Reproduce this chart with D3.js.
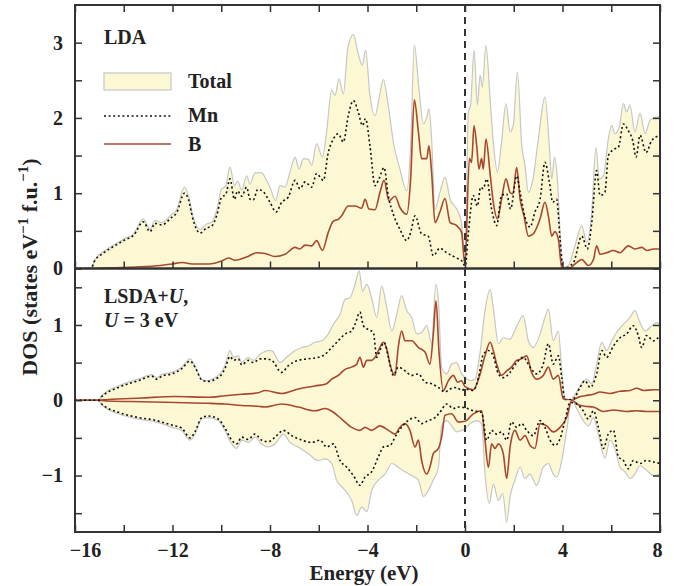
<!DOCTYPE html>
<html>
<head>
<meta charset="utf-8">
<script src="https://cdn.jsdelivr.net/npm/d3@7"></script>
<style>
  body { margin: 0; background: #ffffff; }
  text { font-family: "Liberation Serif", "Times New Roman", serif; font-weight: bold; fill: #222; }
</style>
</head>
<body>
<script>
// energy (eV) and DOS value pairs

// LDA panel
var ldaTotal = [[-16,0],[-15.35,0],[-15.18,0.12],[-14.9,0.21],[-14.63,0.27],[-14.22,0.35],[-13.95,0.40],[-13.6,0.46],[-13.2,0.66],[-12.92,0.52],[-12.72,0.64],[-12.44,0.61],[-12.03,0.72],[-11.83,0.78],[-11.51,1.08],[-11.35,0.97],[-11.15,0.68],[-10.87,0.52],[-10.6,0.59],[-10.4,0.61],[-10.19,0.77],[-9.98,1.06],[-9.82,1.09],[-9.64,1.35],[-9.46,1.10],[-9.33,1.16],[-9.16,1.04],[-8.96,1.23],[-8.82,1.12],[-8.62,1.27],[-8.34,1.27],[-8.14,1.17],[-8.0,1.08],[-7.77,0.90],[-7.59,1.10],[-7.38,1.08],[-7.18,1.28],[-6.97,1.48],[-6.81,1.32],[-6.63,1.46],[-6.43,1.45],[-6.29,1.37],[-6.09,1.66],[-5.85,1.48],[-5.68,1.81],[-5.47,2.37],[-5.33,2.30],[-5.17,2.52],[-4.99,2.32],[-4.81,2.92],[-4.58,3.11],[-4.38,2.85],[-4.21,2.70],[-4.08,2.90],[-3.9,2.30],[-3.69,2.03],[-3.53,2.25],[-3.35,2.51],[-3.15,2.17],[-2.94,1.68],[-2.67,1.32],[-2.39,1.03],[-2.23,1.63],[-2.08,2.97],[-1.89,2.39],[-1.71,1.92],[-1.57,2.01],[-1.48,2.12],[-1.37,1.72],[-1.23,0.79],[-1.03,1.01],[-0.82,1.21],[-0.61,0.92],[-0.34,0.79],[-0.14,0.61],[0,0.05],[0.14,2.08],[0.23,2.17],[0.37,2.90],[0.51,2.17],[0.62,2.57],[0.71,2.41],[0.86,2.96],[1.03,2.25],[1.16,1.68],[1.33,1.28],[1.5,1.68],[1.68,2.19],[1.85,1.81],[1.98,1.90],[2.15,2.61],[2.33,1.63],[2.46,1.37],[2.6,1.01],[2.78,1.17],[3.01,1.72],[3.28,2.28],[3.46,1.63],[3.56,1.19],[3.67,1.48],[3.79,1.19],[3.9,0.48],[4.0,0.01],[4.24,0.04],[4.51,0.30],[4.79,0.57],[4.99,0.35],[5.2,0.75],[5.37,1.61],[5.51,1.19],[5.68,1.23],[5.88,1.72],[6.02,1.90],[6.15,1.79],[6.33,1.88],[6.5,2.19],[6.63,2.08],[6.77,2.17],[6.97,1.81],[7.18,2.06],[7.39,1.79],[7.59,1.97],[7.86,2.01],[8,2.01]];

var ldaMn = [[-16,0],[-15.35,0],[-15.18,0.11],[-14.9,0.19],[-14.63,0.25],[-14.22,0.33],[-13.95,0.38],[-13.6,0.44],[-13.2,0.62],[-12.92,0.49],[-12.72,0.60],[-12.44,0.58],[-12.03,0.68],[-11.83,0.74],[-11.51,1.00],[-11.35,0.92],[-11.15,0.64],[-10.87,0.47],[-10.6,0.54],[-10.4,0.56],[-10.19,0.70],[-9.98,0.95],[-9.82,0.98],[-9.64,1.19],[-9.46,0.92],[-9.33,1.03],[-9.16,0.96],[-8.96,1.08],[-8.82,0.92],[-8.69,0.91],[-8.5,1.05],[-8.28,1.02],[-8.0,0.88],[-7.75,0.75],[-7.52,0.88],[-7.25,0.95],[-6.97,1.17],[-6.77,1.06],[-6.56,1.15],[-6.29,1.08],[-6.09,1.26],[-5.81,1.17],[-5.61,1.54],[-5.4,1.72],[-5.2,1.79],[-4.99,1.68],[-4.79,2.03],[-4.58,2.23],[-4.38,2.08],[-4.21,1.90],[-4.08,1.99],[-3.9,1.63],[-3.69,1.10],[-3.53,1.19],[-3.32,1.34],[-3.15,0.97],[-2.94,0.72],[-2.67,0.52],[-2.39,0.37],[-2.23,0.48],[-2.05,0.70],[-1.78,0.46],[-1.51,0.43],[-1.3,0.17],[-1.03,0.27],[-0.75,0.21],[-0.41,0.15],[-0.07,0.08],[0,0.0],[0.14,0.48],[0.34,0.97],[0.51,0.83],[0.64,1.08],[0.75,1.06],[0.89,1.19],[1.09,0.79],[1.3,0.57],[1.5,0.97],[1.71,0.99],[1.87,0.79],[2.12,1.23],[2.26,1.01],[2.46,0.68],[2.67,0.55],[2.87,0.75],[3.08,0.92],[3.28,1.41],[3.46,1.15],[3.6,0.88],[3.76,0.92],[3.9,0.39],[4.03,0],[4.45,0.08],[4.79,0.43],[5.02,0.26],[5.2,0.61],[5.4,1.30],[5.54,0.97],[5.74,1.01],[5.88,1.50],[6.15,1.59],[6.29,1.61],[6.5,1.92],[6.7,1.83],[6.88,1.70],[7.02,1.48],[7.18,1.77],[7.43,1.54],[7.66,1.70],[8,1.77]];

var ldaB = [[-16,0],[-15.3,0],[-14.5,0.01],[-13.5,0.02],[-12.5,0.04],[-12.03,0.06],[-11.6,0.08],[-11.2,0.06],[-10.5,0.06],[-9.98,0.10],[-9.7,0.14],[-9.44,0.11],[-8.9,0.16],[-8.55,0.21],[-8.2,0.20],[-7.8,0.16],[-7.38,0.19],[-6.97,0.28],[-6.77,0.26],[-6.56,0.31],[-6.29,0.30],[-6.09,0.37],[-5.85,0.24],[-5.61,0.48],[-5.4,0.63],[-5.17,0.66],[-5.06,0.70],[-4.79,0.83],[-4.51,0.83],[-4.24,0.80],[-4.1,0.92],[-3.94,0.79],[-3.69,0.78],[-3.49,1.01],[-3.32,1.17],[-3.12,0.90],[-2.87,0.96],[-2.67,0.81],[-2.39,0.72],[-2.23,1.19],[-2.08,2.24],[-1.91,1.81],[-1.78,1.46],[-1.57,1.46],[-1.48,1.63],[-1.37,1.28],[-1.23,0.61],[-1.03,0.75],[-0.82,0.93],[-0.61,0.61],[-0.34,0.57],[-0.14,0.48],[0,0.04],[0.18,1.46],[0.27,1.41],[0.37,1.90],[0.48,1.63],[0.57,1.32],[0.68,1.46],[0.75,1.32],[0.86,1.72],[1.03,1.26],[1.16,0.88],[1.33,0.66],[1.5,0.92],[1.68,1.19],[1.85,1.01],[1.96,0.99],[2.12,1.34],[2.26,0.92],[2.42,0.70],[2.6,0.43],[2.8,0.46],[3.08,0.66],[3.28,0.88],[3.42,0.70],[3.56,0.43],[3.69,0.49],[3.83,0.39],[3.97,0.01],[4.31,0.01],[4.51,0.06],[4.79,0.12],[5.06,0.04],[5.27,0.12],[5.4,0.30],[5.54,0.19],[5.81,0.21],[6.09,0.24],[6.36,0.21],[6.7,0.30],[6.97,0.26],[7.25,0.28],[7.46,0.24],[7.73,0.26],[8,0.26]];

// LSDA+U panel, spin up
var upTotal = [[-16,0],[-15.05,0],[-14.9,0.06],[-14.63,0.13],[-14.22,0.19],[-13.81,0.24],[-13.4,0.28],[-12.85,0.34],[-12.65,0.30],[-12.44,0.34],[-12.03,0.37],[-11.62,0.44],[-11.28,0.55],[-11.08,0.46],[-10.8,0.28],[-10.6,0.26],[-10.26,0.30],[-10.05,0.35],[-9.85,0.46],[-9.64,0.66],[-9.5,0.57],[-9.3,0.59],[-9.16,0.50],[-8.89,0.57],[-8.68,0.53],[-8.41,0.61],[-8.07,0.66],[-7.93,0.66],[-7.59,0.50],[-7.32,0.57],[-6.97,0.66],[-6.7,0.70],[-6.43,0.72],[-6.16,0.77],[-5.88,0.79],[-5.61,0.88],[-5.4,1.01],[-5.13,1.14],[-4.92,1.34],[-4.72,1.36],[-4.51,1.54],[-4.34,1.72],[-4.21,1.45],[-4.03,1.54],[-3.83,1.36],[-3.62,1.10],[-3.42,1.52],[-3.21,1.23],[-3.0,0.92],[-2.8,1.14],[-2.6,1.39],[-2.39,1.19],[-2.19,1.10],[-1.98,0.88],[-1.78,0.90],[-1.57,0.99],[-1.37,0.75],[-1.2,1.54],[-1.09,1.32],[-0.96,0.44],[-0.75,0.35],[-0.55,0.48],[-0.34,0.50],[-0.14,0.35],[0,0.30],[0.21,0.26],[0.41,0.28],[0.62,0.64],[0.82,1.19],[1.03,1.47],[1.16,1.23],[1.37,0.75],[1.57,0.83],[1.85,0.81],[1.98,0.88],[2.19,1.03],[2.39,1.12],[2.6,0.79],[2.8,0.70],[3.08,0.88],[3.28,1.10],[3.42,1.21],[3.62,0.79],[3.83,0.92],[3.97,0.39],[4.1,0.02],[4.31,0],[4.51,0.08],[4.79,0.22],[4.99,0.28],[5.2,0.22],[5.4,0.48],[5.61,0.77],[5.81,0.66],[6.02,0.79],[6.22,0.90],[6.5,1.01],[6.77,1.10],[6.97,1.19],[7.18,1.03],[7.39,0.92],[7.66,0.99],[7.86,1.03],[8,1.01]];

var upMn = [[-16,0],[-15.05,0],[-14.9,0.05],[-14.22,0.17],[-13.4,0.26],[-12.85,0.32],[-12.65,0.28],[-12.44,0.32],[-12.03,0.35],[-11.62,0.42],[-11.28,0.52],[-11.08,0.44],[-10.8,0.27],[-10.6,0.25],[-10.05,0.32],[-9.85,0.42],[-9.64,0.58],[-9.5,0.53],[-9.3,0.55],[-9.16,0.47],[-8.89,0.53],[-8.68,0.50],[-8.41,0.55],[-8.2,0.55],[-7.93,0.53],[-7.52,0.37],[-7.25,0.46],[-6.84,0.53],[-6.43,0.55],[-6.02,0.57],[-5.74,0.61],[-5.47,0.70],[-5.2,0.79],[-4.92,0.88],[-4.65,0.92],[-4.51,1.01],[-4.31,1.17],[-4.17,0.99],[-3.97,0.94],[-3.76,0.90],[-3.62,0.57],[-3.49,0.66],[-3.32,0.77],[-3.14,0.57],[-2.94,0.33],[-2.74,0.44],[-2.46,0.39],[-2.19,0.33],[-1.91,0.35],[-1.64,0.24],[-1.37,0.22],[-1.09,0.17],[-0.82,0.11],[-0.61,0.15],[-0.34,0.17],[-0.14,0.13],[0,0.15],[0.34,0.13],[0.55,0.30],[0.75,0.61],[0.96,0.66],[1.16,0.59],[1.37,0.35],[1.57,0.30],[1.85,0.37],[2.12,0.50],[2.39,0.57],[2.67,0.44],[2.94,0.35],[3.21,0.48],[3.42,0.75],[3.62,0.48],[3.83,0.59],[3.97,0.30],[4.1,0],[4.45,0.02],[4.72,0.17],[4.92,0.26],[5.13,0.17],[5.4,0.35],[5.61,0.66],[5.81,0.57],[6.09,0.72],[6.36,0.83],[6.63,0.88],[6.9,0.99],[7.11,0.86],[7.25,0.70],[7.45,0.86],[7.73,0.79],[8,0.86]];

var upB = [[-16,0],[-15.05,0],[-14.63,0.01],[-13.27,0.03],[-11.9,0.05],[-10.53,0.04],[-9.85,0.06],[-9.16,0.08],[-8.48,0.10],[-8.2,0.13],[-7.52,0.09],[-6.84,0.15],[-6.16,0.19],[-5.68,0.22],[-5.47,0.28],[-5.2,0.33],[-4.92,0.41],[-4.65,0.44],[-4.44,0.48],[-4.31,0.57],[-4.17,0.44],[-4.03,0.53],[-3.83,0.53],[-3.69,0.57],[-3.55,0.66],[-3.35,0.77],[-3.21,0.68],[-3.08,0.48],[-2.87,0.33],[-2.74,0.70],[-2.6,0.92],[-2.46,0.79],[-2.19,0.79],[-1.91,0.70],[-1.64,0.64],[-1.44,0.48],[-1.3,0.88],[-1.19,1.32],[-1.07,0.66],[-0.89,0.13],[-0.68,0.26],[-0.48,0.33],[-0.3,0.24],[-0.14,0.26],[0,0.18],[0.34,0.14],[0.62,0.35],[0.82,0.59],[1.03,0.77],[1.16,0.66],[1.3,0.48],[1.5,0.33],[1.71,0.39],[1.91,0.44],[2.12,0.53],[2.32,0.55],[2.53,0.59],[2.73,0.37],[2.94,0.28],[3.21,0.33],[3.42,0.44],[3.62,0.28],[3.83,0.33],[4.03,0.02],[4.38,0],[4.65,0.04],[4.92,0.06],[5.27,0.08],[5.54,0.11],[5.95,0.09],[6.36,0.12],[6.77,0.13],[7.04,0.16],[7.32,0.13],[7.73,0.14],[8,0.14]];

// LSDA+U panel, spin down
var downTotal = [[-16,0],[-15.05,0],[-14.9,-0.06],[-14.22,-0.18],[-13.4,-0.25],[-12.65,-0.29],[-12.44,-0.31],[-12.03,-0.36],[-11.62,-0.40],[-11.28,-0.53],[-11.08,-0.45],[-10.8,-0.25],[-10.53,-0.23],[-10.12,-0.27],[-9.85,-0.40],[-9.57,-0.58],[-9.37,-0.64],[-9.16,-0.53],[-8.89,-0.56],[-8.62,-0.49],[-8.34,-0.58],[-8.07,-0.62],[-7.79,-0.58],[-7.45,-0.45],[-7.18,-0.56],[-6.84,-0.62],[-6.43,-0.71],[-6.02,-0.80],[-5.74,-0.78],[-5.47,-0.84],[-5.27,-1.06],[-4.99,-1.17],[-4.65,-1.33],[-4.44,-1.53],[-4.24,-1.42],[-4.03,-1.48],[-3.83,-1.20],[-3.55,-1.06],[-3.28,-0.98],[-3.0,-0.84],[-2.74,-0.89],[-2.46,-0.95],[-2.19,-1.00],[-1.91,-1.06],[-1.71,-1.28],[-1.51,-1.20],[-1.3,-1.06],[-1.09,-0.89],[-0.96,-0.34],[-0.75,-0.27],[-0.55,-0.34],[-0.34,-0.42],[-0.14,-0.40],[0,-0.38],[0.21,-0.31],[0.48,-0.27],[0.68,-0.31],[0.82,-0.98],[1.0,-1.37],[1.16,-1.11],[1.37,-1.33],[1.55,-1.24],[1.71,-1.62],[1.85,-1.28],[2.05,-1.06],[2.26,-0.89],[2.46,-1.04],[2.67,-0.98],[2.94,-1.13],[3.21,-0.89],[3.42,-0.84],[3.62,-0.98],[3.76,-1.02],[3.97,-0.80],[4.17,-0.40],[4.38,0],[4.58,-0.11],[4.85,-0.27],[5.06,-0.34],[5.27,-0.23],[5.47,-0.45],[5.74,-0.77],[5.95,-0.53],[6.15,-0.64],[6.36,-0.89],[6.56,-0.95],[6.77,-1.04],[6.97,-0.98],[7.18,-0.87],[7.45,-0.93],[7.73,-1.00],[8,-0.98]];

var downMn = [[-16,0],[-15.05,0],[-14.9,-0.05],[-14.22,-0.16],[-13.4,-0.23],[-12.65,-0.27],[-12.44,-0.29],[-12.03,-0.33],[-11.62,-0.37],[-11.28,-0.50],[-11.08,-0.42],[-10.8,-0.23],[-10.53,-0.21],[-10.12,-0.25],[-9.85,-0.37],[-9.57,-0.53],[-9.37,-0.58],[-9.16,-0.49],[-8.89,-0.52],[-8.62,-0.45],[-8.34,-0.53],[-8.07,-0.55],[-7.79,-0.49],[-7.45,-0.40],[-7.11,-0.47],[-6.7,-0.53],[-6.29,-0.56],[-5.95,-0.53],[-5.68,-0.62],[-5.4,-0.58],[-5.13,-0.80],[-4.85,-0.89],[-4.58,-1.00],[-4.31,-1.13],[-4.1,-1.02],[-3.83,-0.95],[-3.55,-0.75],[-3.35,-0.62],[-3.08,-0.60],[-2.8,-0.45],[-2.6,-0.36],[-2.33,-0.27],[-2.05,-0.23],[-1.78,-0.31],[-1.51,-0.27],[-1.23,-0.23],[-1.03,-0.16],[-0.75,-0.05],[-0.48,-0.11],[-0.27,-0.09],[0,-0.10],[0.34,-0.14],[0.68,-0.16],[0.89,-0.53],[1.09,-0.40],[1.3,-0.45],[1.5,-0.42],[1.71,-0.53],[1.91,-0.29],[2.12,-0.36],[2.32,-0.31],[2.53,-0.40],[2.8,-0.47],[3.08,-0.27],[3.28,-0.36],[3.49,-0.53],[3.69,-0.60],[3.9,-0.51],[4.1,-0.27],[4.31,-0.03],[4.58,-0.05],[4.85,-0.14],[5.06,-0.25],[5.27,-0.14],[5.47,-0.36],[5.68,-0.64],[5.88,-0.45],[6.09,-0.40],[6.29,-0.75],[6.5,-0.80],[6.7,-0.91],[6.9,-0.80],[7.18,-0.84],[7.45,-0.80],[7.73,-0.82],[8,-0.84]];

var downB = [[-16,0],[-15.05,0],[-14.63,-0.01],[-13.27,-0.02],[-11.9,-0.03],[-10.53,-0.04],[-9.85,-0.05],[-9.16,-0.07],[-8.48,-0.08],[-8.2,-0.09],[-7.52,-0.05],[-6.84,-0.09],[-6.16,-0.14],[-5.74,-0.11],[-5.4,-0.16],[-5.06,-0.25],[-4.65,-0.36],[-4.31,-0.40],[-4.1,-0.36],[-3.83,-0.40],[-3.49,-0.34],[-3.14,-0.40],[-2.87,-0.45],[-2.67,-0.36],[-2.46,-0.31],[-2.26,-0.40],[-2.05,-0.62],[-1.91,-0.53],[-1.78,-0.80],[-1.57,-0.98],[-1.44,-0.89],[-1.3,-0.71],[-1.09,-0.64],[-0.96,-0.49],[-0.82,-0.20],[-0.55,-0.18],[-0.27,-0.29],[0,-0.28],[0.34,-0.18],[0.68,-0.14],[0.82,-0.53],[0.96,-0.89],[1.09,-0.58],[1.23,-0.64],[1.37,-0.58],[1.57,-0.71],[1.71,-1.04],[1.85,-0.62],[2.05,-0.40],[2.26,-0.53],[2.46,-0.47],[2.67,-0.60],[2.87,-0.64],[3.08,-0.31],[3.35,-0.34],[3.62,-0.42],[3.9,-0.36],[4.17,-0.23],[4.38,0],[4.65,-0.06],[4.92,-0.08],[5.27,-0.09],[5.68,-0.15],[6.09,-0.13],[6.63,-0.15],[7.04,-0.14],[7.45,-0.15],[8,-0.15]];

// axis ticks and labels
var energyTicks = [-16, -14, -12, -10, -8, -6, -4, -2, 0, 2, 4, 6, 8];
var energyLabels = [-16, -12, -8, -4, 0, 4, 8];
var topTicks = [0, 0.5, 1, 1.5, 2, 2.5, 3];
var bottomTicks = [-1.5, -1, -0.5, 0, 0.5, 1, 1.5];
var legendNames = ["Total", "Mn", "B"];


// parameters plot
var margin = {left: 75, top: 5};
var param = {width: 585, panelHeight: 263.5, tick: 7};
var colours = {fill: "#fdf8d4", edge: "#c6c6c6", mn: "#111111", b: "#a8472f", frame: "#333333"};

var svg = d3.select("body")
            .append("svg")
            .attr("width", 674)
            .attr("height", 586);

var x = d3.scaleLinear().domain([-16, 8]).range([0, param.width]);
var yTop = d3.scaleLinear().domain([0, 3.5]).range([param.panelHeight, 0]);
var yBottom = d3.scaleLinear().domain([-1.75, 1.75]).range([param.panelHeight, 0]);

var fmt = d3.format("d");


function makePanel(id, offsetY) {
  /*
  creates a clipped group for one panel
  */
  svg.append("clipPath")
     .attr("id", id)
     .append("rect")
     .attr("width", param.width)
     .attr("height", param.panelHeight);

  var g = svg.append("g")
             .attr("transform", "translate(" + [margin.left, offsetY] + ")");
  var plot = g.append("g").attr("clip-path", "url(#" + id + ")");
  return [g, plot];
};


function drawCurves(plot, y, total, mn, b) {
  /*
  draws filled total DOS, then B and Mn lines
  */
  var area = d3.area()
               .x(function(d) { return x(d[0]); })
               .y0(y(0))
               .y1(function(d) { return y(d[1]); })
               .curve(d3.curveMonotoneX);
  var line = d3.line()
               .x(function(d) { return x(d[0]); })
               .y(function(d) { return y(d[1]); })
               .curve(d3.curveMonotoneX);

  plot.append("path")
      .attr("d", area(total))
      .attr("fill", colours.fill)
      .attr("stroke", "none");
  plot.append("path")
      .attr("d", line(total))
      .attr("fill", "none")
      .attr("stroke", colours.edge)
      .attr("stroke-width", 1.2);
  plot.append("path")
      .attr("d", line(b))
      .attr("fill", "none")
      .attr("stroke", colours.b)
      .attr("stroke-width", 1.6);
  plot.append("path")
      .attr("d", line(mn))
      .attr("fill", "none")
      .attr("stroke", colours.mn)
      .attr("stroke-width", 1.6)
      .attr("stroke-dasharray", "2,2.6");
};


function drawAxes(g, y, yTicks, bottomEdge, topEdge) {
  /*
  draws the inward ticks on all sides of a panel
  */
  var left = g.append("g")
              .call(d3.axisLeft(y)
                      .tickValues(yTicks)
                      .tickSize(-param.tick)
                      .tickPadding(12)
                      .tickFormat(function(d) { return d % 1 === 0 ? fmt(d) : ""; }));
  var right = g.append("g")
               .attr("transform", "translate(" + [param.width, 0] + ")")
               .call(d3.axisRight(y).tickValues(yTicks).tickSize(-param.tick).tickFormat(""));
  var top = g.append("g")
             .call(d3.axisTop(x).tickValues(energyTicks).tickSize(-param.tick).tickFormat(""));
  var bottom = g.append("g")
                .attr("transform", "translate(" + [0, param.panelHeight] + ")")
                .call(d3.axisBottom(x)
                        .tickValues(energyTicks)
                        .tickSize(-param.tick)
                        .tickPadding(11)
                        .tickFormat(function(d) {
                          return bottomEdge && energyLabels.indexOf(d) >= 0 ? fmt(d) : "";
                        }));
  if (!topEdge) {
    top.selectAll(".tick line").remove();
  };

  [left, right, top, bottom].forEach(function(a) {
    a.select(".domain").remove();
    a.selectAll(".tick line").attr("stroke", colours.frame).attr("stroke-width", 1.5);
    a.selectAll("text")
     .style("font-size", "20px")
     .style("font-family", "'Liberation Serif', 'Times New Roman', serif")
     .style("font-weight", "bold")
     .attr("fill", "#222");
  });

  // nudge outer energy labels inside the frame as in the figure
  bottom.selectAll(".tick text")
        .attr("dx", function(d) { return d === -16 ? 10 : (d === 8 ? -3 : 0); });

  // frame
  g.append("rect")
   .attr("width", param.width)
   .attr("height", param.panelHeight)
   .attr("fill", "none")
   .attr("stroke", colours.frame)
   .attr("stroke-width", 2);
};


// top panel (LDA)
var topPanel = makePanel("clipTop", margin.top);
drawCurves(topPanel[1], yTop, ldaTotal, ldaMn, ldaB);

// bottom panel (LSDA+U), fill between spin up and spin down
var bottomY = margin.top + param.panelHeight;
var bottomPanel = makePanel("clipBottom", bottomY);
drawCurves(bottomPanel[1], yBottom, upTotal, upMn, upB);
drawCurves(bottomPanel[1], yBottom, downTotal, downMn, downB);

drawAxes(topPanel[0], yTop, topTicks, false, true);
drawAxes(bottomPanel[0], yBottom, bottomTicks, true, false);

// Fermi level
svg.append("line")
   .attr("x1", margin.left + x(0))
   .attr("x2", margin.left + x(0))
   .attr("y1", margin.top)
   .attr("y2", bottomY + param.panelHeight)
   .attr("stroke", colours.frame)
   .attr("stroke-width", 2)
   .attr("stroke-dasharray", "7,5");

// panel labels
svg.append("text")
   .attr("x", 104)
   .attr("y", 44)
   .style("font-size", "20px")
   .text("LDA");

var lsda = svg.append("text")
              .attr("x", 104)
              .attr("y", 303)
              .style("font-size", "20px");
lsda.append("tspan").text("LSDA+");
lsda.append("tspan").style("font-style", "italic").text("U");
lsda.append("tspan").text(",");

var uText = svg.append("text")
               .attr("x", 104)
               .attr("y", 327)
               .style("font-size", "20px");
uText.append("tspan").style("font-style", "italic").text("U");
uText.append("tspan").text(" = 3 eV");

// legend
var legend = svg.append("g");
legend.append("rect")
      .attr("x", 104)
      .attr("y", 73)
      .attr("width", 67)
      .attr("height", 17)
      .attr("fill", colours.fill)
      .attr("stroke", colours.edge)
      .attr("stroke-width", 1.2);
legend.append("line")
      .attr("x1", 104).attr("x2", 171)
      .attr("y1", 116).attr("y2", 116)
      .attr("stroke", colours.mn)
      .attr("stroke-width", 1.6)
      .attr("stroke-dasharray", "2,2.6");
legend.append("line")
      .attr("x1", 104).attr("x2", 171)
      .attr("y1", 144).attr("y2", 144)
      .attr("stroke", colours.b)
      .attr("stroke-width", 1.6);
legend.selectAll("text")
      .data(legendNames)
      .enter()
      .append("text")
      .attr("x", 188)
      .attr("y", function(d, i) { return [88, 122, 151][i]; })
      .style("font-size", "20px")
      .text(function(d) { return d; });

// axis titles
var yLabel = svg.append("text")
                .attr("transform", "translate(" + [37, 267] + ") rotate(-90)")
                .attr("text-anchor", "middle")
                .style("font-size", "22px");
yLabel.append("tspan").text("DOS (states eV");
yLabel.append("tspan").attr("dy", -9).style("font-size", "15px").text("\u22121");
yLabel.append("tspan").attr("dy", 9).text(" f.u.");
yLabel.append("tspan").attr("dy", -9).style("font-size", "15px").text("\u22121");
yLabel.append("tspan").attr("dy", 9).text(")");

svg.append("text")
   .attr("x", 364)
   .attr("y", 580)
   .attr("text-anchor", "middle")
   .style("font-size", "21px")
   .text("Energy (eV)");
</script>
</body>
</html>
